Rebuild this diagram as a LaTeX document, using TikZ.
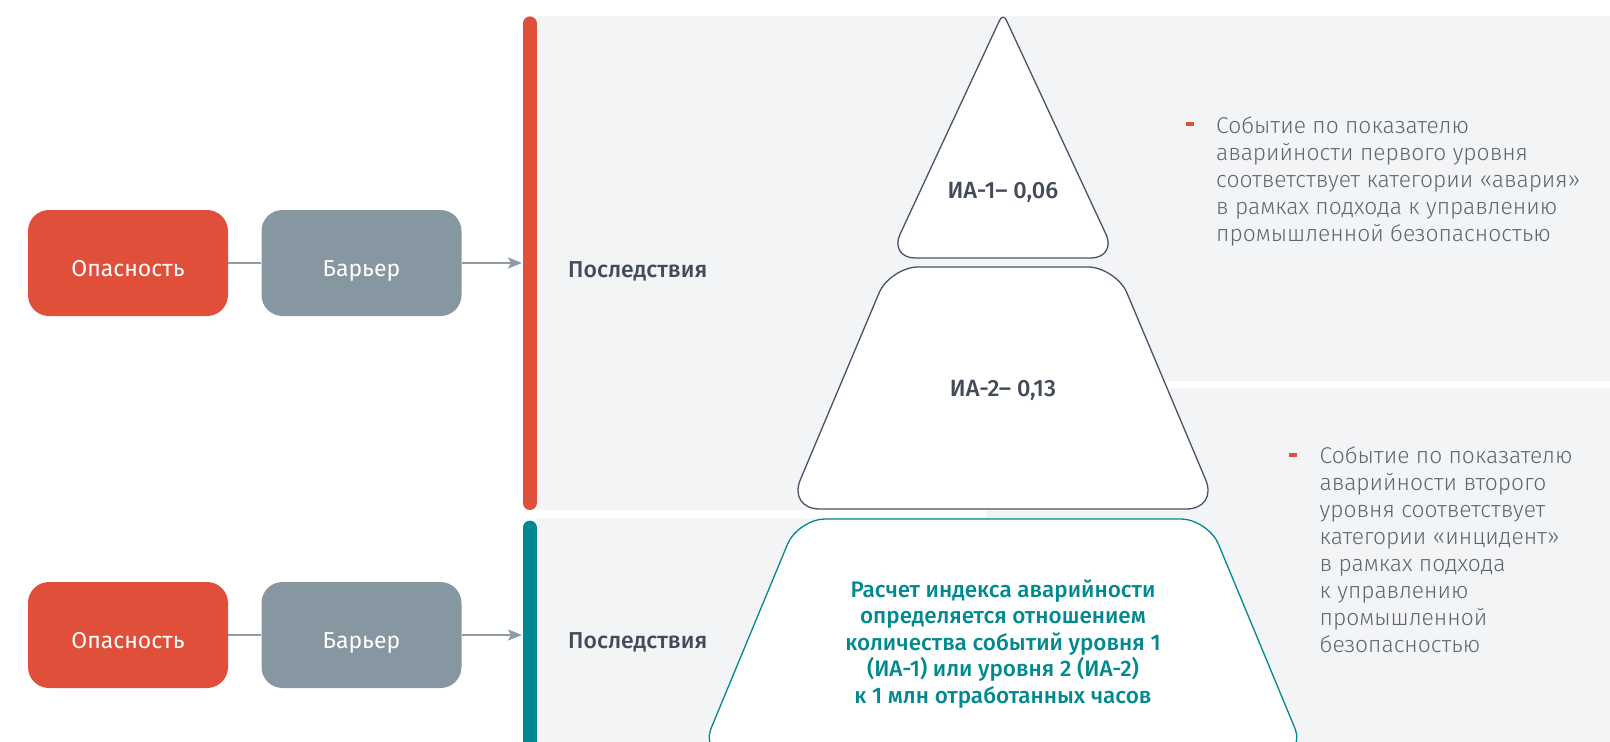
\documentclass[tikz,border=0pt]{standalone}
\usepackage{fontspec}
\setmainfont{Fira Sans}
\newfontfamily\lightfont{Fira Sans Light}
\newfontfamily\medfont{Fira Sans Medium}
\usetikzlibrary{calc,arrows.meta}
\definecolor{hazard}{HTML}{E04F3A}
\definecolor{barrier}{HTML}{8797A1}
\definecolor{panel}{HTML}{F3F4F6}
\definecolor{darktext}{HTML}{434B59}
\definecolor{softtext}{HTML}{5F6673}
\definecolor{tealc}{HTML}{00898F}
\definecolor{edgec}{HTML}{4A5263}
\definecolor{connc}{HTML}{8D9CA6}
% #1 name, #2 prev, #3 corner, #4 next, #5 radius, #6 control distance
\newcommand\mkround[6]{%
  \coordinate (#1a) at ($(#3)!#5!(#2)$);
  \coordinate (#1b) at ($(#3)!#5!(#4)$);
  \coordinate (#1p) at ($(#3)!#6!(#2)$);
  \coordinate (#1q) at ($(#3)!#6!(#4)$);
}
\begin{document}
\begin{tikzpicture}[x=1pt,y=-1pt,
  box/.style={rounded corners=21pt, minimum width=200pt, minimum height=106pt, inner sep=0pt, text=white, font=\fontsize{23}{27}\selectfont, text height=26pt, text depth=0pt},
  conn/.style={draw=connc, line width=2pt},
  sidelabel/.style={font=\medfont\fontsize{23}{27}\selectfont, text=darktext, inner sep=0pt},
  para/.style={font=\lightfont\fontsize{22.8}{27}\selectfont, text=softtext, align=left, inner sep=0pt},
  bullet/.style={fill=hazard, minimum width=8pt, minimum height=4pt, inner sep=0pt},
  tierfill/.style={fill=white, draw=edgec, line width=1.3pt},
  tealtier/.style={fill=white, draw=tealc, line width=1.3pt},
]
\useasboundingbox (0,0) rectangle (1610,742);
% background panels
\fill[panel] (537,16) rectangle (1610,381);
\fill[panel] (537,16) rectangle (1150,510);
\fill[panel] (986,388) rectangle (1610,742);
\fill[panel] (537,518) rectangle (986,742);
% vertical bars
\draw[hazard, line width=14pt, line cap=round] (529.8,23.4) -- (529.8,503);
\draw[tealc, line width=14pt, line cap=round] (529.8,527.6) -- (529.8,780);
\coordinate (bar1) at (522,263);
\coordinate (bar2) at (522,635);
% level 1 triangle
\coordinate (T1) at (1003,13);
\coordinate (T2) at (1117,258);
\coordinate (T3) at (889,258);
\mkround{ta}{T3}{T1}{T2}{8pt}{3.6pt}
\mkround{tb}{T1}{T2}{T3}{26pt}{12pt}
\mkround{tc}{T2}{T3}{T1}{26pt}{12pt}
\draw[tierfill] (taa) .. controls (tap) and (taq) .. (tab) -- (tba) .. controls (tbp) and (tbq) .. (tbb) -- (tca) .. controls (tcp) and (tcq) .. (tcb) -- cycle;
% level 2 trapezoid
\coordinate (M1) at (890,267);
\coordinate (M2) at (1116,267);
\coordinate (M3) at (1218,509);
\coordinate (M4) at (788,509);
\mkround{ma}{M4}{M1}{M2}{28pt}{13pt}
\mkround{mb}{M1}{M2}{M3}{28pt}{13pt}
\mkround{mc}{M2}{M3}{M4}{32pt}{14pt}
\mkround{md}{M3}{M4}{M1}{32pt}{14pt}
\draw[tierfill] (maa) .. controls (map) and (maq) .. (mab) -- (mba) .. controls (mbp) and (mbq) .. (mbb) -- (mca) .. controls (mcp) and (mcq) .. (mcb) -- (mda) .. controls (mdp) and (mdq) .. (mdb) -- cycle;
% base trapezoid
\coordinate (E1) at (798,519);
\coordinate (E2) at (1208,519);
\coordinate (E3) at (1306,755);
\coordinate (E4) at (700,755);
\mkround{ea}{E4}{E1}{E2}{27pt}{12.5pt}
\mkround{eb}{E1}{E2}{E3}{27pt}{12.5pt}
\mkround{ec}{E2}{E3}{E4}{30pt}{13pt}
\mkround{ed}{E3}{E4}{E1}{30pt}{13pt}
\draw[tealtier] (eaa) .. controls (eap) and (eaq) .. (eab) -- (eba) .. controls (ebp) and (ebq) .. (ebb) -- (eca) .. controls (ecp) and (ecq) .. (ecb) -- (eda) .. controls (edp) and (edq) .. (edb) -- cycle;
% texts in pyramid
\node[sidelabel, font=\medfont\fontsize{23.5}{27}\selectfont, anchor=base] (ia1) at (1003,198) {ИА-1– 0,06};
\node[sidelabel, font=\medfont\fontsize{23.5}{27}\selectfont, anchor=base] (ia2) at (1003,396) {ИА-2– 0,13};
\node[font=\medfont\fontsize{22.5}{26.5}\selectfont, text=tealc, align=center, anchor=north, inner sep=0pt] (formula) at (1003,579.5)
  {Расчет индекса аварийности\\определяется отношением\\количества событий уровня 1\\(ИА-1) или уровня 2 (ИА-2)\\к 1 млн отработанных часов};
% consequence labels
\node[sidelabel, anchor=base west] (cons1) at (568,277.5) {Последствия};
\node[sidelabel, anchor=base west] (cons2) at (568,648.5) {Последствия};
% right descriptions
\node[bullet] (d1) at (1190,124) {};
\node[para, anchor=north west] (p1) at (1216,116)
  {Событие по показателю\\аварийности первого уровня\\соответствует категории «авария»\\в рамках подхода к управлению\\промышленной безопасностью};
\node[bullet] (d2) at (1293,454.5) {};
\node[para, anchor=north west] (p2) at (1319.5,446)
  {Событие по показателю\\аварийности второго\\уровня соответствует\\категории «инцидент»\\в рамках подхода\\к управлению\\промышленной\\безопасностью};
% left chains
\node[box, fill=hazard] (h1) at (128,263) {Опасность};
\node[box, fill=barrier] (b1) at (361.5,263) {Барьер};
\node[box, fill=hazard] (h2) at (128,635) {Опасность};
\node[box, fill=barrier] (b2) at (361.5,635) {Барьер};
\draw[conn] (h1) -- (b1);
\draw[conn, -{Stealth[length=14pt, width=11pt, inset=3pt]}] (b1) -- (bar1);
\draw[conn] (h2) -- (b2);
\draw[conn, -{Stealth[length=14pt, width=11pt, inset=3pt]}] (b2) -- (bar2);
\end{tikzpicture}
\end{document}
